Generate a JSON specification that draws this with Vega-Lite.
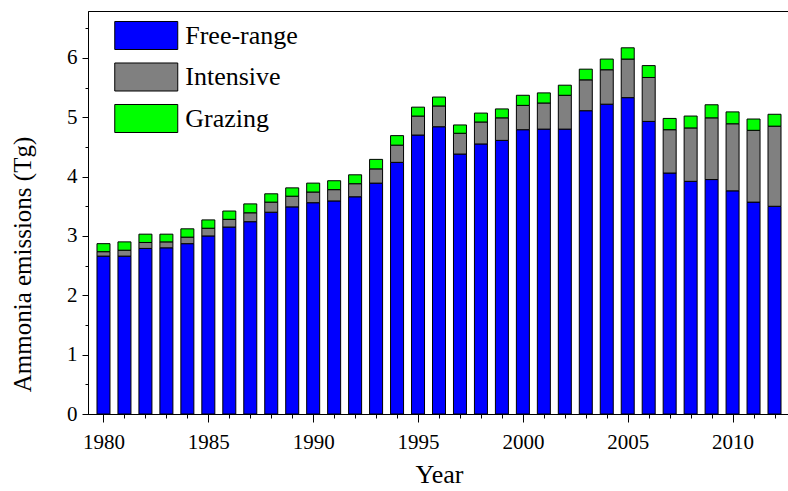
{
  "$schema": "https://vega.github.io/schema/vega-lite/v6.json",
  "autosize": {"type": "none"},
  "padding": {"left": 88, "top": 11, "right": 0, "bottom": 77},
  "width": 702,
  "height": 403,
  "background": "white",
  "config": {
    "view": {"stroke": "black", "strokeWidth": 1},
    "font": "Liberation Serif",
    "axis": {"grid": false, "domainColor": "black", "tickColor": "black", "labelColor": "black", "titleColor": "black", "labelFont": "Liberation Serif", "titleFont": "Liberation Serif", "titleFontWeight": "normal"}
  },
  "data": {
    "values": [
      {"year": 1980, "Free-range": 2.66, "Intensive": 0.075, "Grazing": 0.135},
      {"year": 1981, "Free-range": 2.66, "Intensive": 0.10, "Grazing": 0.14},
      {"year": 1982, "Free-range": 2.79, "Intensive": 0.10, "Grazing": 0.14},
      {"year": 1983, "Free-range": 2.80, "Intensive": 0.10, "Grazing": 0.13},
      {"year": 1984, "Free-range": 2.87, "Intensive": 0.11, "Grazing": 0.14},
      {"year": 1985, "Free-range": 3.00, "Intensive": 0.13, "Grazing": 0.14},
      {"year": 1986, "Free-range": 3.15, "Intensive": 0.13, "Grazing": 0.14},
      {"year": 1987, "Free-range": 3.24, "Intensive": 0.15, "Grazing": 0.15},
      {"year": 1988, "Free-range": 3.40, "Intensive": 0.17, "Grazing": 0.14},
      {"year": 1989, "Free-range": 3.49, "Intensive": 0.18, "Grazing": 0.14},
      {"year": 1990, "Free-range": 3.56, "Intensive": 0.18, "Grazing": 0.15},
      {"year": 1991, "Free-range": 3.59, "Intensive": 0.19, "Grazing": 0.15},
      {"year": 1992, "Free-range": 3.66, "Intensive": 0.22, "Grazing": 0.15},
      {"year": 1993, "Free-range": 3.89, "Intensive": 0.24, "Grazing": 0.16},
      {"year": 1994, "Free-range": 4.24, "Intensive": 0.29, "Grazing": 0.16},
      {"year": 1995, "Free-range": 4.70, "Intensive": 0.32, "Grazing": 0.15},
      {"year": 1996, "Free-range": 4.84, "Intensive": 0.35, "Grazing": 0.15},
      {"year": 1997, "Free-range": 4.38, "Intensive": 0.35, "Grazing": 0.14},
      {"year": 1998, "Free-range": 4.55, "Intensive": 0.37, "Grazing": 0.15},
      {"year": 1999, "Free-range": 4.61, "Intensive": 0.38, "Grazing": 0.15},
      {"year": 2000, "Free-range": 4.79, "Intensive": 0.41, "Grazing": 0.17},
      {"year": 2001, "Free-range": 4.80, "Intensive": 0.44, "Grazing": 0.17},
      {"year": 2002, "Free-range": 4.80, "Intensive": 0.57, "Grazing": 0.17},
      {"year": 2003, "Free-range": 5.11, "Intensive": 0.52, "Grazing": 0.18},
      {"year": 2004, "Free-range": 5.22, "Intensive": 0.58, "Grazing": 0.18},
      {"year": 2005, "Free-range": 5.33, "Intensive": 0.65, "Grazing": 0.19},
      {"year": 2006, "Free-range": 4.93, "Intensive": 0.74, "Grazing": 0.20},
      {"year": 2007, "Free-range": 4.06, "Intensive": 0.73, "Grazing": 0.19},
      {"year": 2008, "Free-range": 3.92, "Intensive": 0.90, "Grazing": 0.20},
      {"year": 2009, "Free-range": 3.95, "Intensive": 1.04, "Grazing": 0.22},
      {"year": 2010, "Free-range": 3.76, "Intensive": 1.13, "Grazing": 0.20},
      {"year": 2011, "Free-range": 3.57, "Intensive": 1.21, "Grazing": 0.19},
      {"year": 2012, "Free-range": 3.50, "Intensive": 1.35, "Grazing": 0.20}
    ]
  },
  "transform": [
    {"fold": ["Free-range", "Intensive", "Grazing"], "as": ["type", "value"]},
    {"calculate": "indexof(['Free-range','Intensive','Grazing'], datum.type)", "as": "ord"}
  ],
  "mark": {"type": "bar", "width": 13, "stroke": "black", "strokeWidth": 1, "clip": true},
  "encoding": {
    "x": {
      "field": "year", "type": "quantitative",
      "scale": {"domain": [1979.5, 2012.5], "nice": false, "zero": false},
      "axis": {
        "title": "Year", "titleFontSize": 26, "titlePadding": 9,
        "values": [1980,1981,1982,1983,1984,1985,1986,1987,1988,1989,1990,1991,1992,1993,1994,1995,1996,1997,1998,1999,2000,2001,2002,2003,2004,2005,2006,2007,2008,2009,2010,2011,2012],
        "labelExpr": "datum.value % 5 == 0 ? datum.value : ''",
        "format": "d",
        "labelFontSize": 21, "labelPadding": 9, "labelFlush": false, "labelOverlap": false,
        "tickSize": {"condition": {"test": "datum.value % 5 == 0", "value": 8}, "value": 4}
      }
    },
    "y": {
      "field": "value", "type": "quantitative", "stack": "zero",
      "scale": {"domain": [0, 6.79], "nice": false},
      "axis": {
        "title": "Ammonia emissions (Tg)", "titleFontSize": 25, "titlePadding": 31, "titleY": 253,
        "values": [0,0.5,1,1.5,2,2.5,3,3.5,4,4.5,5,5.5,6,6.5],
        "labelExpr": "datum.value % 1 == 0 ? datum.value : ''",
        "labelFontSize": 21, "labelPadding": 5, "labelOverlap": false,
        "tickSize": {"condition": {"test": "datum.value % 1 == 0", "value": 6}, "value": 3}
      }
    },
    "color": {
      "field": "type", "type": "nominal",
      "scale": {"domain": ["Free-range", "Intensive", "Grazing"], "range": ["#0000ff", "#808080", "#00ff00"]},
      "legend": {
        "title": null, "orient": "none", "legendX": 41.75, "legendY": 8,
        "symbolType": "M-2,-0.889L2,-0.889L2,0.889L-2,0.889Z",
        "symbolSize": 992.25, "symbolStrokeColor": "black", "symbolStrokeWidth": 1, "symbolOpacity": 1,
        "labelFontSize": 26, "labelFont": "Liberation Serif", "labelColor": "black", "labelOffset": 22.5,
        "rowPadding": 8.5
      }
    },
    "order": {"field": "ord", "type": "quantitative"}
  }
}
